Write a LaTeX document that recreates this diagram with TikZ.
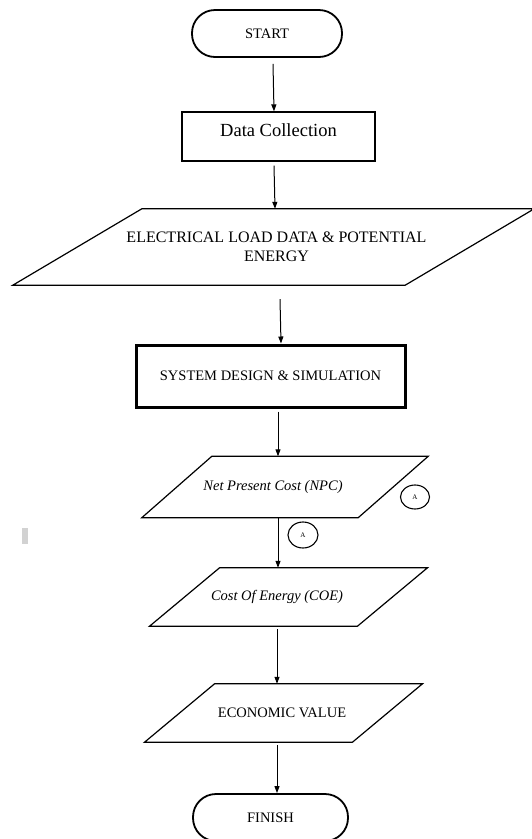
\documentclass[tikz,border=0pt]{standalone}
\usepackage{fontspec}
\setmainfont{Liberation Serif}
\usetikzlibrary{shapes.geometric, arrows.meta}

% parallelogram outline round an empty node (name, half slant, x offset)
\newcommand{\paraline}[3]{%
  \draw[line width=1.2pt] ([xshift=#2+#3]#1.north west) -- ([xshift=#2+#3]#1.north east)
    -- ([xshift=-#2+#3]#1.south east) -- ([xshift=-#2+#3]#1.south west) -- cycle;}

\begin{document}
\begin{tikzpicture}[x=1pt,y=-1pt,font=\fontsize{14.5}{17}\selectfont,
  term/.style={draw, line width=1.8pt, rounded corners=23pt, minimum height=47pt},
  box/.style={draw, line width=1.2pt},
  para/.style={inner sep=0pt, align=center},
  conn/.style={draw, ellipse, line width=1.1pt, inner sep=0pt, font=\fontsize{7}{7}\selectfont},
  arr/.style={line width=1pt, -{Triangle[length=7pt,width=5pt]}}]

\useasboundingbox (0,0) rectangle (532,839);

\node[term, minimum width=150pt] (start) at (267,33.5) {START};
\node[box, minimum width=193pt, inner ysep=9pt, text height=15pt, text depth=16pt,
  font=\fontsize{18.5}{22}\selectfont] (data) at (278.5,136.5) {Data Collection};
\node[para, minimum width=392pt, minimum height=76pt, font=\fontsize{16}{19.5}\selectfont]
  (load) at (276.5,247) {ELECTRICAL LOAD DATA \& POTENTIAL\\ENERGY};
\node[box, line width=3pt, minimum width=269pt, minimum height=62pt] (sim) at (270.5,376)
  {SYSTEM DESIGN \& SIMULATION};
\node[para, minimum width=216pt, minimum height=61pt, font=\fontsize{14.5}{17}\itshape]
  (npc) at (273,487) {Net Present Cost (NPC)};
\node[para, minimum width=207.5pt, minimum height=58pt, font=\fontsize{14.5}{17}\itshape]
  (coe) at (277,597) {Cost Of Energy (COE)};
\node[para, minimum width=207.5pt, minimum height=58pt] (econ) at (282,713) {ECONOMIC VALUE};
\node[term, minimum width=155pt] (finish) at (270.5,817.5) {FINISH};

\paraline{load}{64.5pt}{-3pt}
\paraline{npc}{35pt}{12pt}
\paraline{coe}{35pt}{11.5pt}
\paraline{econ}{35pt}{1.5pt}

% connectors A
\node[conn, minimum width=29pt, minimum height=24pt] (conA) at (415,497) {A};
\node[conn, minimum width=30pt, minimum height=26pt] (conB) at (303,535) {A};

\draw[arr] ([xshift=6pt,yshift=-6pt]start.south) -- ([xshift=-4.5pt]data.north);
\draw[arr] ([xshift=-4.5pt,yshift=-4pt]data.south) -- ([xshift=-1.5pt]load.north);
\draw[arr] ([xshift=3.5pt,yshift=-14pt]load.south) -- ([xshift=10.5pt]sim.north);
\draw[arr] ([xshift=7.5pt,yshift=-3pt]sim.south) -- ([xshift=5pt]npc.north);
\draw[arr] ([xshift=5pt]npc.south) -- ([xshift=1pt]coe.north);
\draw[arr] ([yshift=-3pt]coe.south) -- ([xshift=-5pt]econ.north);
\draw[arr] ([xshift=-5pt,yshift=-3pt]econ.south) -- ([xshift=6.5pt]finish.north);

% stray mark at the left
\fill[gray!35] (22,528) rectangle (28,544);

\end{tikzpicture}
\end{document}
